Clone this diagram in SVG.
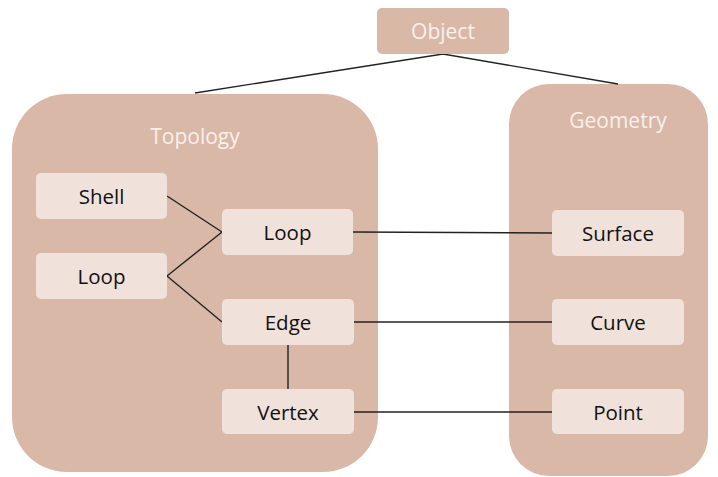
<svg xmlns="http://www.w3.org/2000/svg" width="718" height="477" viewBox="0 0 718 477">
<style>
.big{fill:#D9B8A8}
.inner{fill:#F0E2DA}
.lt{font-family:"Open Sans","Liberation Sans",sans-serif;font-size:21px;fill:#FAF0EC;text-anchor:middle}
.dt{font-family:"Open Sans","Liberation Sans",sans-serif;font-size:20.5px;fill:#111;text-anchor:middle}
.c{stroke:#222;stroke-width:1.4;fill:none}
</style>
<rect x="0" y="0" width="718" height="477" fill="#fff"/>
<g id="topology">
<rect class="big" x="12" y="94" width="366" height="378" rx="55"/>
<text class="lt" x="195" y="144">Topology</text>
</g>
<g id="geometry">
<rect class="big" x="509" y="84" width="199" height="392" rx="40"/>
<text class="lt" x="618" y="128">Geometry</text>
</g>
<g id="connectors">
<polyline class="c" points="195,93 443,54 618,84"/>
<line class="c" x1="167" y1="196" x2="222" y2="232"/>
<line class="c" x1="167" y1="276" x2="222" y2="232"/>
<line class="c" x1="167" y1="276" x2="222" y2="322"/>
<line class="c" x1="353" y1="232" x2="552" y2="233"/>
<line class="c" x1="354" y1="322" x2="552" y2="322"/>
<line class="c" x1="288" y1="345" x2="288" y2="389"/>
<line class="c" x1="354" y1="412" x2="552" y2="412"/>
</g>
<g id="object">
<rect class="big" x="377" y="8" width="132" height="46" rx="5"/>
<text class="lt" x="443" y="39">Object</text>
</g>
<g id="shell"><rect class="inner" x="36" y="173" width="131" height="46" rx="5"/><text class="dt" x="101.5" y="204">Shell</text></g>
<g id="loop-left"><rect class="inner" x="36" y="253" width="131" height="46" rx="5"/><text class="dt" x="101.5" y="284">Loop</text></g>
<g id="loop"><rect class="inner" x="222" y="209" width="131" height="46" rx="5"/><text class="dt" x="287.5" y="240">Loop</text></g>
<g id="edge"><rect class="inner" x="222" y="299" width="132" height="46" rx="5"/><text class="dt" x="288" y="330">Edge</text></g>
<g id="vertex"><rect class="inner" x="222" y="389" width="132" height="45" rx="5"/><text class="dt" x="288" y="420">Vertex</text></g>
<g id="surface"><rect class="inner" x="552" y="210" width="132" height="46" rx="5"/><text class="dt" x="618" y="241">Surface</text></g>
<g id="curve"><rect class="inner" x="552" y="299" width="132" height="46" rx="5"/><text class="dt" x="618" y="330">Curve</text></g>
<g id="point"><rect class="inner" x="552" y="389" width="132" height="45" rx="5"/><text class="dt" x="618" y="420">Point</text></g>
</svg>
